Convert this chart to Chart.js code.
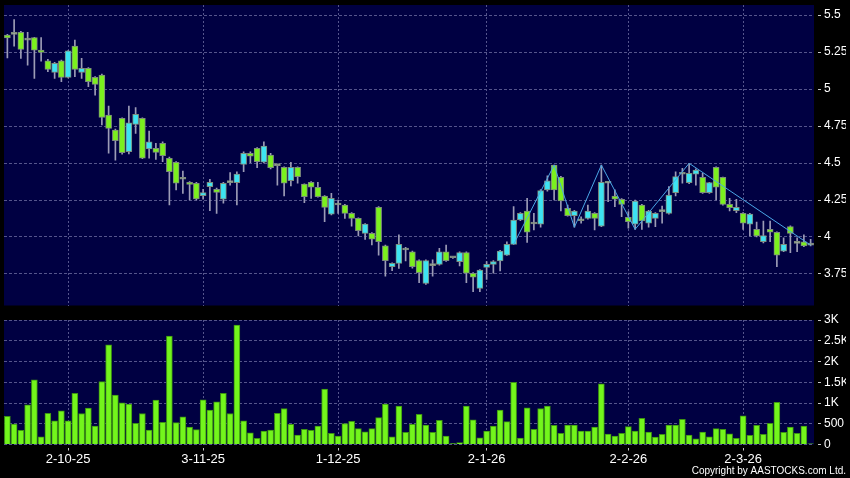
<!DOCTYPE html>
<html>
<head>
<meta charset="utf-8">
<script src="https://cdn.jsdelivr.net/npm/chart.js@4.4.1/dist/chart.umd.min.js"></script>
<style>
  html, body { margin: 0; padding: 0; background: #000; }
  #wrap { position: relative; width: 850px; height: 478px; }
  #price-box { position: absolute; left: 0; top: 0; width: 850px; height: 312px; }
  #vol-box { position: absolute; left: 0; top: 312px; width: 850px; height: 166px; }
</style>
</head>
<body>
<div id="wrap">
  <div id="price-box"><canvas id="price-chart"></canvas></div>
  <div id="vol-box"><canvas id="vol-chart"></canvas></div>
</div>
<script>
// trading days, d-m-yy
var dates = [
  "18-9-25","19-9-25","22-9-25","23-9-25","24-9-25","25-9-25","26-9-25","29-9-25","30-9-25",
  "2-10-25","3-10-25","6-10-25","8-10-25","9-10-25","10-10-25","13-10-25","14-10-25","15-10-25","16-10-25",
  "17-10-25","20-10-25","21-10-25","22-10-25","23-10-25","24-10-25","27-10-25","28-10-25","30-10-25","31-10-25",
  "3-11-25","4-11-25","5-11-25","6-11-25","7-11-25","10-11-25","11-11-25","12-11-25","13-11-25","14-11-25",
  "17-11-25","18-11-25","19-11-25","20-11-25","21-11-25","24-11-25","25-11-25","26-11-25","27-11-25","28-11-25",
  "1-12-25","2-12-25","3-12-25","4-12-25","5-12-25","8-12-25","9-12-25","10-12-25","11-12-25","12-12-25",
  "15-12-25","16-12-25","17-12-25","18-12-25","19-12-25","22-12-25","23-12-25","24-12-25","26-12-25","29-12-25",
  "30-12-25","31-12-25",
  "2-1-26","5-1-26","6-1-26","7-1-26","8-1-26","9-1-26","12-1-26","13-1-26","14-1-26","15-1-26",
  "16-1-26","19-1-26","20-1-26","21-1-26","22-1-26","23-1-26","26-1-26","27-1-26","28-1-26","29-1-26","30-1-26",
  "2-2-26","3-2-26","4-2-26","5-2-26","6-2-26","9-2-26","10-2-26","11-2-26","12-2-26","13-2-26",
  "16-2-26","20-2-26","23-2-26","24-2-26","25-2-26","26-2-26","27-2-26",
  "2-3-26","3-3-26","4-3-26","5-3-26","6-3-26","9-3-26","10-3-26","11-3-26","12-3-26","13-3-26","16-3-26"
];

var tickDates = ["2-10-25", "3-11-25", "1-12-25", "2-1-26", "2-2-26", "2-3-26"];

var opens = [
  5.365, 5.37, 5.383, 5.331, 5.347, 5.263, 5.191, 5.113, 5.191, 5.079,
  5.29, 5.113, 5.14, 5.079, 5.095, 4.824, 4.723, 4.802, 4.576, 4.761,
  4.802, 4.595, 4.60, 4.633, 4.532, 4.505, 4.39, 4.37, 4.363, 4.279,
  4.34, 4.322, 4.255, 4.367, 4.367, 4.491, 4.566, 4.60, 4.505, 4.554,
  4.482, 4.471, 4.38, 4.471, 4.358, 4.37, 4.336, 4.277, 4.155, 4.216,
  4.216, 4.16, 4.126, 4.025, 4.025, 4.20, 3.941, 3.799, 3.822, 3.912,
  3.90, 3.84, 3.687, 3.806, 3.815, 3.90, 3.86, 3.833, 3.894, 3.755,
  3.653, 3.795, 3.815, 3.838, 3.878, 3.95, 4.115, 4.176, 4.088, 4.086,
  4.318, 4.486, 4.403, 4.194, 4.144, 4.11, 4.126, 4.16, 4.074, 4.363,
  4.277, 4.255, 4.133, 4.086, 4.216, 4.093, 4.126, 4.171, 4.16, 4.30,
  4.424, 4.367, 4.424, 4.403, 4.30, 4.471, 4.403, 4.22, 4.178, 4.16,
  4.086, 4.052, 3.968, 4.052, 4.032, 3.905, 4.07, 3.957, 3.968, 3.945
];
var highs = [
  5.37, 5.47, 5.39, 5.383, 5.35, 5.347, 5.20, 5.18, 5.195, 5.26,
  5.331, 5.207, 5.145, 5.085, 5.101, 4.885, 4.73, 4.805, 4.885, 4.874,
  4.805, 4.716, 4.633, 4.644, 4.54, 4.51, 4.446, 4.375, 4.37, 4.322,
  4.39, 4.33, 4.37, 4.435, 4.44, 4.575, 4.576, 4.605, 4.644, 4.566,
  4.485, 4.475, 4.505, 4.475, 4.36, 4.375, 4.37, 4.28, 4.295, 4.25,
  4.22, 4.165, 4.13, 4.09, 4.03, 4.205, 3.945, 3.825, 4.014, 3.93,
  3.905, 3.845, 3.845, 3.845, 3.924, 3.946, 3.865, 3.90, 3.90, 3.76,
  3.78, 3.833, 3.84, 3.91, 3.968, 4.205, 4.165, 4.261, 4.16, 4.32,
  4.414, 4.486, 4.41, 4.216, 4.18, 4.137, 4.216, 4.165, 4.486, 4.37,
  4.318, 4.26, 4.171, 4.25, 4.22, 4.18, 4.165, 4.209, 4.34, 4.44,
  4.464, 4.498, 4.46, 4.43, 4.37, 4.475, 4.405, 4.261, 4.255, 4.165,
  4.16, 4.10, 4.108, 4.108, 4.035, 3.995, 4.075, 3.995, 4.014, 3.984
];
var lows = [
  5.21, 5.29, 5.207, 5.162, 5.072, 5.189, 5.117, 5.072, 5.05, 5.075,
  5.083, 5.072, 5.016, 4.959, 4.757, 4.566, 4.52, 4.56, 4.561, 4.70,
  4.53, 4.532, 4.525, 4.509, 4.216, 4.318, 4.295, 4.25, 4.25, 4.255,
  4.178, 4.16, 4.228, 4.351, 4.216, 4.441, 4.502, 4.468, 4.50, 4.46,
  4.351, 4.277, 4.345, 4.363, 4.232, 4.261, 4.27, 4.103, 4.15, 4.16,
  4.126, 4.074, 4.007, 3.984, 3.946, 3.878, 3.736, 3.772, 3.788, 3.838,
  3.79, 3.691, 3.68, 3.736, 3.81, 3.835, 3.855, 3.804, 3.691, 3.63,
  3.63, 3.714, 3.755, 3.77, 3.875, 3.95, 4.11, 3.964, 4.047, 4.066,
  4.31, 4.25, 4.176, 4.14, 4.066, 4.093, 4.12, 4.047, 4.07, 4.239,
  4.205, 4.137, 4.059, 4.052, 4.052, 4.066, 4.07, 4.093, 4.155, 4.277,
  4.363, 4.36, 4.351, 4.295, 4.295, 4.25, 4.215, 4.176, 4.164, 4.052,
  4.007, 4.0, 3.96, 3.968, 3.80, 3.90, 3.894, 3.90, 3.935, 3.939
];
var closes = [
  5.345, 5.37, 5.268, 5.331, 5.263, 5.248, 5.133, 5.174, 5.079, 5.259,
  5.133, 5.14, 5.05, 5.032, 4.809, 4.734, 4.651, 4.57, 4.772, 4.829,
  4.532, 4.644, 4.572, 4.549, 4.441, 4.363, 4.39, 4.356, 4.257, 4.30,
  4.37, 4.302, 4.363, 4.367, 4.426, 4.566, 4.547, 4.509, 4.615, 4.468,
  4.482, 4.363, 4.471, 4.408, 4.272, 4.336, 4.272, 4.20, 4.261, 4.216,
  4.16, 4.126, 4.043, 4.088, 3.986, 3.968, 3.84, 3.822, 3.95, 3.912,
  3.799, 3.759, 3.84, 3.806, 3.90, 3.84, 3.86, 3.894, 3.755, 3.728,
  3.777, 3.815, 3.833, 3.905, 3.95, 4.115, 4.16, 4.032, 4.088, 4.313,
  4.38, 4.318, 4.243, 4.144, 4.176, 4.11, 4.176, 4.126, 4.37, 4.363,
  4.255, 4.22, 4.103, 4.243, 4.108, 4.176, 4.16, 4.171, 4.284, 4.408,
  4.424, 4.43, 4.453, 4.30, 4.367, 4.336, 4.22, 4.198, 4.20, 4.093,
  4.155, 4.007, 4.009, 4.032, 3.878, 3.95, 4.025, 3.957, 3.939, 3.945
];

var volumes = [
  681, 495, 340, 957, 1557, 186, 754, 568, 811, 568,
  1232, 746, 876, 446, 1516, 2400, 1192, 1005, 973, 511,
  746, 349, 1070, 535, 2611, 527, 665, 422, 357, 1078,
  827, 1030, 1232, 746, 2878, 568, 284, 146, 324, 349,
  754, 868, 486, 227, 365, 340, 446, 1338, 268, 203,
  503, 560, 381, 308, 381, 649, 973, 186, 924, 292,
  486, 730, 470, 292, 584, 203, 24, 49, 924, 592,
  162, 324, 446, 827, 551, 1500, 154, 884, 365, 868,
  924, 462, 268, 470, 470, 324, 324, 422, 1459, 251,
  203, 268, 430, 324, 632, 300, 178, 243, 470, 470,
  608, 227, 138, 300, 186, 381, 365, 259, 146, 689,
  219, 462, 243, 511, 1014, 292, 422, 268, 446, 15
];

// zigzag turning points (day index, price)
var zigzagDays = [75, 81, 84, 88, 93, 101, 119];
var zigzagPrices = [3.95, 4.486, 4.066, 4.486, 4.052, 4.498, 3.945];

var upColor = '#3de3f2';
var downColor = '#7bf01e';
var dojiColor = '#a6b09c';
var gridColor = '#55558c';
var panelColor = '#000042';

Chart.defaults.font.family = "'Liberation Sans', Arial, sans-serif";
Chart.defaults.color = '#ffffff';
Chart.defaults.animation = false;

var panelBg = {
  id: 'panelBg',
  beforeDraw: function(chart) {
    var a = chart.chartArea;
    var ctx = chart.ctx;
    ctx.save();
    ctx.fillStyle = panelColor;
    ctx.fillRect(a.left, a.top, a.right - a.left, a.bottom - a.top);
    ctx.restore();
  }
};

function isTickDay(i) {
  return tickDates.indexOf(dates[i]) >= 0;
}
function dateGrid(ctx) {
  return isTickDay(ctx.index) ? gridColor : 'rgba(0,0,0,0)';
}
function dateTick(ctx) {
  return isTickDay(ctx.index) ? '#c8c8c8' : 'rgba(0,0,0,0)';
}

var bodyColors = opens.map(function(o, i) {
  if (closes[i] > o) return upColor;
  if (closes[i] < o) return downColor;
  return dojiColor;
});

function rightAxisFit(s) {
  s.width = 32;
  s.paddingTop = 0;
  s.paddingBottom = 0;
}

new Chart(document.getElementById('price-chart'), {
  type: 'bar',
  data: {
    labels: dates,
    datasets: [
      {
        type: 'line',
        data: zigzagDays.map(function(d, k) { return {x: dates[d], y: zigzagPrices[k]}; }),
        borderColor: '#4aa6e6',
        borderWidth: 1,
        pointRadius: 0,
        order: 0
      },
      {
        data: opens.map(function(o, i) { return [o, closes[i]]; }),
        backgroundColor: bodyColors,
        borderColor: '#7d8c7c',
        borderWidth: 1,
        borderSkipped: false,
        barThickness: 6,
        minBarLength: 2,
        grouped: false,
        order: 1
      },
      {
        data: lows.map(function(l, i) { return [l, highs[i]]; }),
        backgroundColor: '#9c9cb6',
        barThickness: 1,
        grouped: false,
        order: 2
      }
    ]
  },
  options: {
    responsive: true,
    maintainAspectRatio: false,
    layout: { padding: { left: 4, right: 4, top: 5, bottom: 6.5 } },
    plugins: { legend: { display: false }, tooltip: { enabled: false } },
    scales: {
      x: {
        offset: true,
        ticks: { display: false, autoSkip: false },
        grid: { offset: false, drawTicks: false, color: dateGrid },
        border: { display: false, dash: [2, 2] },
        afterFit: function(s) { s.height = 0; s.paddingLeft = 0; s.paddingRight = 0; }
      },
      y: {
        position: 'right',
        min: 3.537,
        max: 5.568,
        ticks: {
          stepSize: 0.25,
          includeBounds: false,
          padding: 3,
          font: { size: 12 },
          callback: function(v) { return String(+v.toFixed(2)); }
        },
        grid: { color: gridColor, tickColor: '#c8c8c8', tickLength: 7, tickBorderDash: [0, 4, 3, 0] },
        border: { display: false, dash: [3, 2] },
        afterFit: rightAxisFit
      }
    }
  },
  plugins: [panelBg]
});

new Chart(document.getElementById('vol-chart'), {
  type: 'bar',
  data: {
    labels: dates,
    datasets: [{
      data: volumes,
      backgroundColor: '#73f51c',
      borderColor: '#3d9412',
      borderWidth: 1,
      borderSkipped: 'start',
      barThickness: 6
    }]
  },
  options: {
    responsive: true,
    maintainAspectRatio: false,
    layout: { padding: { left: 4, right: 4, top: 8, bottom: 0 } },
    plugins: {
      legend: { display: false },
      tooltip: { enabled: false },
      title: {
        display: true,
        position: 'bottom',
        align: 'end',
        text: 'Copyright by AASTOCKS.com Ltd.',
        color: '#ffffff',
        font: { size: 10, weight: 'normal' },
        padding: { top: 2, bottom: 1 }
      }
    },
    scales: {
      x: {
        offset: true,
        ticks: {
          autoSkip: false,
          maxRotation: 0,
          padding: 1,
          font: { size: 13 },
          callback: function(v, i) { return isTickDay(i) ? dates[i] : ''; }
        },
        grid: { offset: false, color: dateGrid, tickColor: dateTick, tickLength: 6, tickBorderDash: [0, 3, 3, 0] },
        border: { display: false, dash: [2, 2] },
        afterFit: function(s) { s.height = 18.5; s.paddingLeft = 0; s.paddingRight = 0; }
      },
      y: {
        position: 'right',
        min: 0,
        max: 3000,
        ticks: {
          stepSize: 500,
          padding: 3,
          font: { size: 12 },
          callback: function(v) { return v === 0 ? '0' : (v < 1000 ? String(v) : (v / 1000) + 'K'); }
        },
        grid: { color: gridColor, tickColor: '#c8c8c8', tickLength: 7, tickBorderDash: [0, 4, 3, 0] },
        border: { display: false, dash: [3, 2] },
        afterFit: rightAxisFit
      }
    }
  },
  plugins: [panelBg]
});
</script>
</body>
</html>
